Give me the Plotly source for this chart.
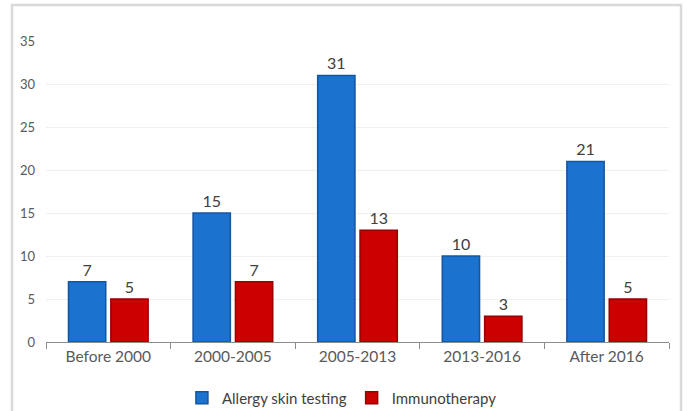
import plotly.graph_objects as go

categories = ["Before 2000", "2000-2005", "2005-2013", "2013-2016", "After 2016"]
allergy_skin_testing = [7, 15, 31, 10, 21]
immunotherapy = [5, 7, 13, 3, 5]
y_ticks = [0, 5, 10, 15, 20, 25, 30, 35]

W, H = 687, 411
ml, mr, mt, mb = 46, 18, 41, 69
pw, ph = W - ml - mr, H - mt - mb

def px_x(x):
    return (x - ml) / pw

def px_y(y):
    return (H - mb - y) / ph

font_family = "Lato, 'Open Sans', sans-serif"
text_color = "#595959"

fig = go.Figure()
fig.add_trace(go.Bar(
    x=categories, y=allergy_skin_testing, name="Allergy skin testing",
    marker=dict(color="#1b72cf", line=dict(color="#14559e", width=1.5)),
    text=allergy_skin_testing, textposition="outside",
    textfont=dict(size=16, color="#404040", family=font_family),
    cliponaxis=False,
))
fig.add_trace(go.Bar(
    x=categories, y=immunotherapy, name="Immunotherapy",
    marker=dict(color="#cc0000", line=dict(color="#970000", width=1.5)),
    text=immunotherapy, textposition="outside",
    textfont=dict(size=16, color="#404040", family=font_family),
    cliponaxis=False,
))

fig.update_layout(
    width=W, height=H,
    margin=dict(l=ml, r=mr, t=mt, b=mb, autoexpand=False),
    paper_bgcolor="white", plot_bgcolor="white",
    barmode="group", bargap=0.32, bargroupgap=0.12,
    font=dict(family=font_family, color=text_color),
    showlegend=True,
    legend=dict(orientation="h", x=0.475, xanchor="center", y=px_y(398), yanchor="middle",
                font=dict(size=15, color="#404040", family=font_family),
                itemwidth=30, traceorder="normal"),
    xaxis=dict(
        type="category", showgrid=False, showline=True, linecolor="#8c8c8c", linewidth=1.2,
        ticks="outside", tickson="boundaries", ticklen=6, tickcolor="#8c8c8c",
        tickfont=dict(size=15.5, color=text_color, family=font_family),
        fixedrange=True,
    ),
    yaxis=dict(
        range=[0, 35], tickvals=y_ticks, showgrid=True, gridcolor="#f0f0f0", gridwidth=1,
        zeroline=False, showline=False, ticks="",
        tickfont=dict(size=13, color=text_color, family=font_family),
        ticklabelstandoff=10, fixedrange=True,
    ),
    shapes=[dict(
        type="rect", xref="paper", yref="paper",
        x0=px_x(12), x1=px_x(681), y0=px_y(420), y1=px_y(5),
        line=dict(color="#d9d9d9", width=2.5), fillcolor="rgba(0,0,0,0)", layer="below",
    )],
)

fig.write_html("out.html", config={"displayModeBar": False},
               post_script="document.body.style.margin='0';document.body.style.overflow='hidden';")
